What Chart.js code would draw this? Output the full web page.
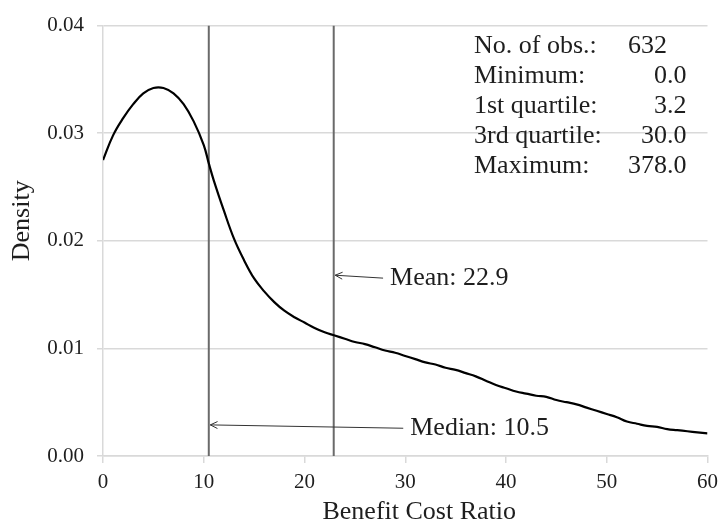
<!DOCTYPE html>
<html lang="en">
<head>
  <title>Benefit Cost Ratio density</title>
  <script src="https://cdn.jsdelivr.net/npm/chart.js"></script>
  <style>
    html, body {
      margin: 0;
      padding: 0;
      background: #fff;
    }

    #wrap {
      position: relative;
      width: 725px;
      height: 527px;
    }
  </style>
</head>
<body>

<div id="wrap">
  <canvas id="densityChart" width="725" height="527"></canvas>
</div>

<script>
  // density curve
  const bcrX = [0, 1, 2, 3, 4, 5, 6, 7, 8, 9, 10, 10.5, 11, 12, 13, 14, 15, 16, 17, 18, 19, 20,
    21, 22, 23, 24, 25, 26, 27, 28, 29, 30, 31, 32, 33, 34, 35, 36, 37, 38, 39, 40,
    41, 42, 43, 44, 45, 46, 47, 48, 49, 50, 51, 52, 53, 54, 55, 56, 57, 58, 59, 60];
  const density = [0.0275, 0.0298, 0.0314, 0.0327, 0.0337, 0.0342, 0.0342, 0.0337, 0.0327, 0.0311, 0.0289, 0.0272, 0.0256, 0.0228, 0.0202, 0.0182, 0.0165, 0.0153, 0.0143, 0.0135, 0.0129, 0.0124,
    0.0119, 0.0115, 0.0112, 0.0109, 0.0106, 0.0104, 0.0101, 0.0098, 0.0096, 0.0093, 0.0090, 0.0087, 0.0085, 0.0082, 0.0080, 0.0077, 0.0074, 0.0070, 0.0066, 0.0063,
    0.0060, 0.0058, 0.0056, 0.0055, 0.0052, 0.0050, 0.0048, 0.0045, 0.0042, 0.0039, 0.0036, 0.0032, 0.0030, 0.0028, 0.0027, 0.0025, 0.0024, 0.0023, 0.0022, 0.0021];

  // median and mean markers
  const markerNames = ['Median', 'Mean'];
  const markerValues = [10.5, 22.9];
  const arrowTailX = [29.8, 27.8];
  const arrowTailY = [0.00258, 0.01653];
  const arrowTipY = [0.00289, 0.0168];

  // summary box
  const statLabels = ['No. of obs.:', 'Minimum:', '1st quartile:', '3rd quartile:', 'Maximum:'];
  const statValues = ['632', '0.0', '3.2', '30.0', '378.0'];

  const xTicks = [0, 10, 20, 30, 40, 50, 60];
  const yTicks = [0, 0.01, 0.02, 0.03, 0.04];
  const xTitle = 'Benefit Cost Ratio';
  const yTitle = 'Density';

  const serif = "'Liberation Serif', 'Times New Roman', serif";
  const textColor = '#1e1e1e';
  const gridColor = '#d9d9d9';

  let curvePoints = bcrX.map((x, i) => ({x: x, y: density[i]}));

  let markerSets = markerValues.map((v, i) => ({
    label: markerNames[i],
    data: [{x: v, y: yTicks[0]}, {x: v, y: yTicks[yTicks.length - 1]}],
    borderColor: '#6a6a6a',
    borderWidth: 2,
    pointRadius: 0,
    tension: 0
  }));

  // arrows, labels, axis titles and the summary box
  const notes = {
    id: 'notes',
    afterDatasetsDraw(chart) {
      let c = chart.ctx;
      let sx = chart.scales.x, sy = chart.scales.y;
      let area = chart.chartArea;
      c.save();
      c.font = '26px ' + serif;
      c.fillStyle = textColor;
      c.textBaseline = 'middle';

      markerValues.forEach((v, i) => {
        let x0 = sx.getPixelForValue(arrowTailX[i]);
        let y0 = sy.getPixelForValue(arrowTailY[i]);
        let x1 = sx.getPixelForValue(v) + 1.5;
        let y1 = sy.getPixelForValue(arrowTipY[i]);
        c.strokeStyle = '#333';
        c.lineWidth = 1;
        c.beginPath();
        c.moveTo(x0, y0);
        c.lineTo(x1, y1);
        c.stroke();
        let a = Math.atan2(y1 - y0, x1 - x0);
        c.beginPath();
        c.moveTo(x1 + 8 * Math.cos(a + Math.PI - 0.45), y1 + 8 * Math.sin(a + Math.PI - 0.45));
        c.lineTo(x1, y1);
        c.lineTo(x1 + 8 * Math.cos(a + Math.PI + 0.45), y1 + 8 * Math.sin(a + Math.PI + 0.45));
        c.stroke();

        c.textAlign = 'left';
        c.fillText(markerNames[i] + ': ' + v.toFixed(1), x0 + 7, y0);
      });

      // summary table, values lined up on the decimal point
      let tail = c.measureText('.0').width;
      let left = area.left + 371;
      let dot = area.right - 21 - tail;
      statLabels.forEach((s, i) => {
        let y = area.top + 21 + i * 30;
        c.textAlign = 'left';
        c.fillText(s, left, y);
        let v = statValues[i];
        let p = v.indexOf('.');
        let whole = p < 0 ? v : v.slice(0, p);
        c.fillText(v, dot - c.measureText(whole).width, y);
      });

      // axis titles
      c.textAlign = 'center';
      c.fillText(xTitle, (area.left + area.right) / 2 + 14, chart.height - 15);
      c.translate(22, (area.top + area.bottom) / 2 - 20);
      c.rotate(-Math.PI / 2);
      c.fillText(yTitle, 0, 0);

      c.restore();
    }
  };

  new Chart(document.getElementById('densityChart'), {
    type: 'line',
    data: {
      datasets: [{
        label: 'Density',
        data: curvePoints,
        borderColor: '#000',
        borderWidth: 2.2,
        pointRadius: 0,
        tension: 0.4
      }].concat(markerSets)
    },
    options: {
      responsive: false,
      animation: false,
      layout: {padding: {top: 21, right: 14, left: 0, bottom: 0}},
      plugins: {
        legend: {display: false},
        tooltip: {enabled: false}
      },
      scales: {
        x: {
          type: 'linear',
          min: xTicks[0],
          max: xTicks[xTicks.length - 1],
          afterBuildTicks: s => { s.ticks = xTicks.map(v => ({value: v})); },
          afterFit: s => { s.height = 71; },
          grid: {drawOnChartArea: false, color: gridColor, tickColor: gridColor, tickLength: 7, lineWidth: 1.5},
          border: {display: true, color: gridColor, width: 1.5},
          ticks: {font: {family: serif, size: 21}, color: textColor, padding: 7, maxRotation: 0}
        },
        y: {
          min: yTicks[0],
          max: yTicks[yTicks.length - 1],
          afterBuildTicks: s => { s.ticks = yTicks.map(v => ({value: v})); },
          afterFit: s => { s.width = 103; },
          grid: {color: gridColor, tickColor: gridColor, tickLength: 6, lineWidth: 1.5},
          border: {display: true, color: gridColor, width: 1.5},
          ticks: {font: {family: serif, size: 21}, color: textColor, padding: 13, callback: v => v.toFixed(2)}
        }
      }
    },
    plugins: [notes]
  });
</script>

</body>
</html>
